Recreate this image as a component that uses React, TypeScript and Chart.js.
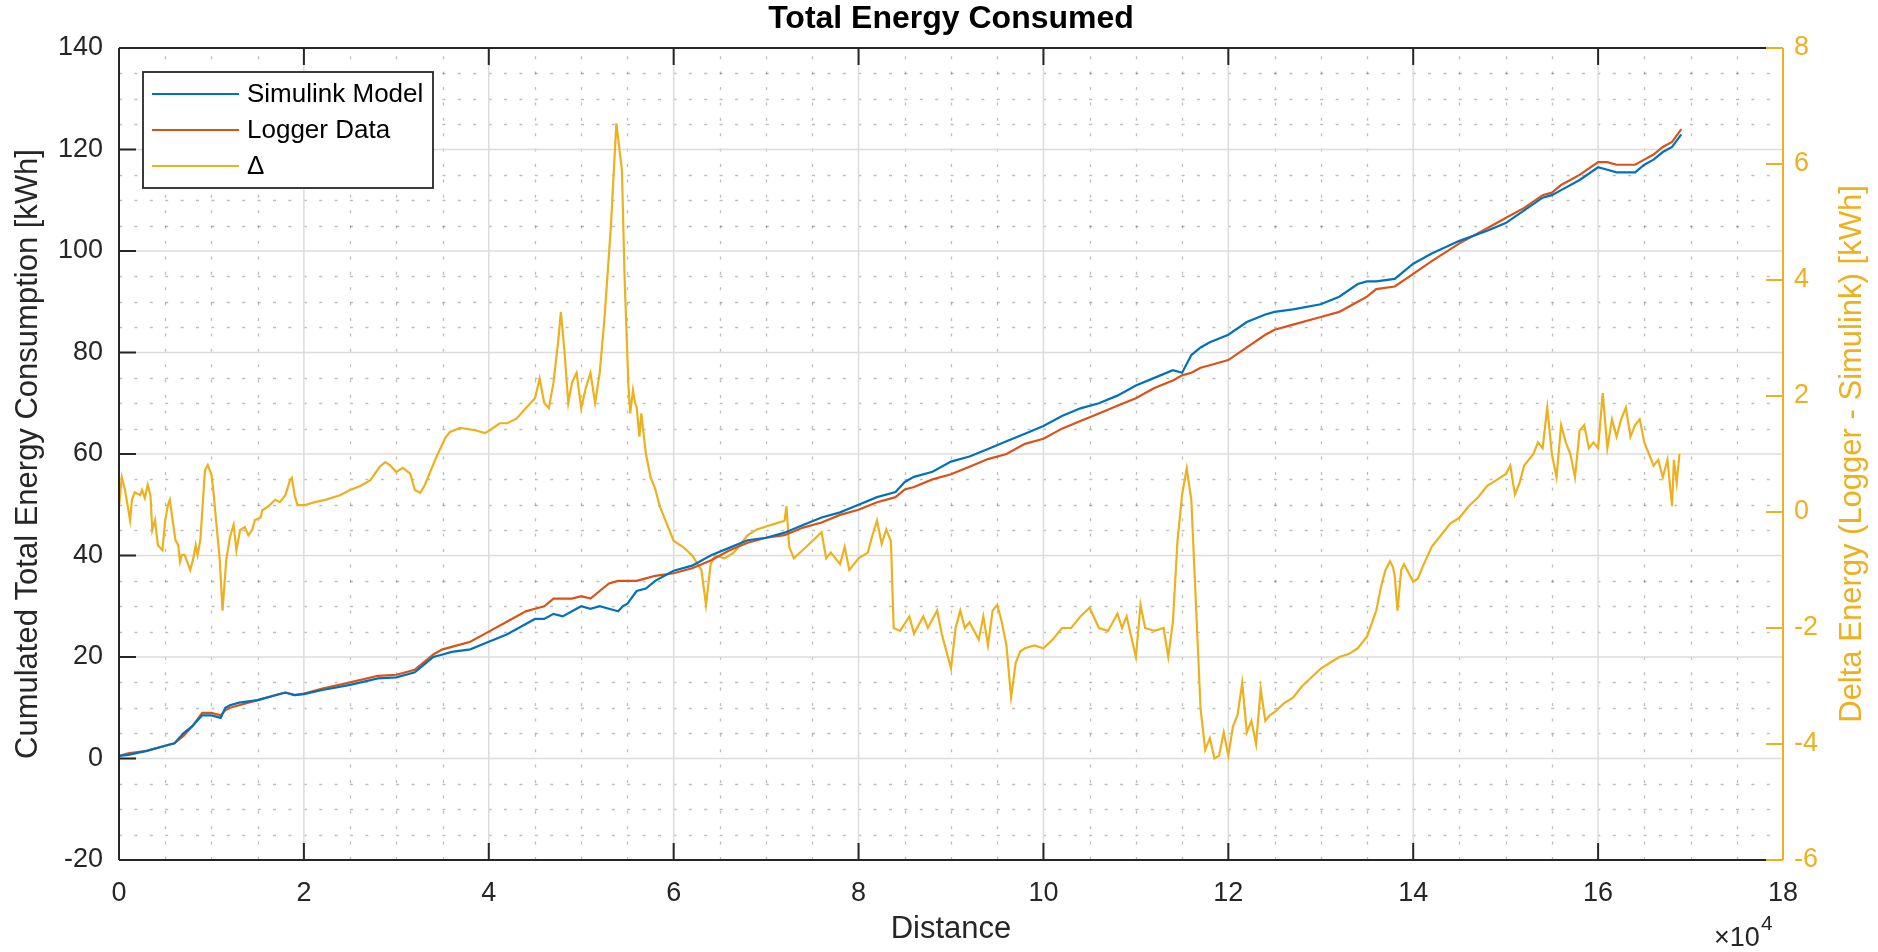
import React, { useEffect, useRef } from "react";
import { Chart, registerables } from "chart.js";

Chart.register(...registerables);

// ---------------- data (distance in units of 1e4 m) ----------------
const cumDistance = [0, 0.1, 0.3, 0.5, 0.6, 0.7, 0.8, 0.9, 1.0, 1.1, 1.15, 1.2, 1.3, 1.5, 1.7, 1.8, 1.9, 2.0, 2.2, 2.5, 2.8, 3.0, 3.2, 3.3, 3.4, 3.5, 3.6, 3.8, 4.0, 4.2, 4.4, 4.5, 4.6, 4.7, 4.8, 4.9, 5.0, 5.1, 5.2, 5.3, 5.4, 5.45, 5.5, 5.6, 5.7, 5.8, 6.0, 6.2, 6.4, 6.6, 6.8, 7.0, 7.2, 7.4, 7.6, 7.8, 8.0, 8.2, 8.4, 8.5, 8.6, 8.8, 9.0, 9.2, 9.4, 9.6, 9.8, 10.0, 10.2, 10.4, 10.6, 10.8, 11.0, 11.2, 11.4, 11.5, 11.6, 11.7, 11.8, 12.0, 12.2, 12.4, 12.5, 12.7, 13.0, 13.2, 13.4, 13.5, 13.6, 13.8, 14.0, 14.2, 14.5, 14.8, 15.0, 15.2, 15.4, 15.5, 15.6, 15.8, 16.0, 16.1, 16.2, 16.4, 16.5, 16.6, 16.7, 16.8, 16.9];

const simulinkModel = [0.5, 0.7, 1.5, 2.5, 3, 5, 6.5, 8.5, 8.5, 8, 10, 10.5, 11, 11.5, 12.5, 13, 12.5, 12.7, 13.5, 14.5, 15.8, 16, 17, 18.5, 20, 20.5, 21, 21.5, 23, 24.5, 26.5, 27.5, 27.5, 28.5, 28, 29, 30, 29.5, 30, 29.5, 29, 30, 30.5, 33, 33.5, 35, 37, 38, 40, 41.5, 43, 43.5, 44.5, 46, 47.5, 48.5, 50, 51.5, 52.5, 54.5, 55.5, 56.5, 58.5, 59.5, 61, 62.5, 64, 65.5, 67.5, 69, 70, 71.5, 73.5, 75, 76.5, 76, 79.5, 81, 82, 83.5, 86, 87.5, 88, 88.5, 89.5, 91, 93.5, 94, 94, 94.5, 97.5, 99.5, 102, 104, 105.5, 108, 110.5, 111, 112, 114, 116.5, 116, 115.5, 115.5, 117, 118, 119.5, 120.5, 123];

const loggerData = [0.5, 1, 1.5, 2.5, 3, 4.5, 6.5, 9, 9, 8.5, 9.5, 10, 10.5, 11.5, 12.5, 13, 12.5, 12.8, 13.8, 15, 16.3, 16.5, 17.5, 19, 20.5, 21.5, 22, 23, 25, 27, 29, 29.5, 30, 31.5, 31.5, 31.5, 32, 31.5, 33, 34.5, 35, 35, 35, 35, 35.5, 36, 36.5, 37.5, 39, 41, 42.5, 43.5, 44, 45.5, 46.5, 48, 49, 50.5, 51.5, 53, 53.5, 55, 56, 57.5, 59, 60, 62, 63, 65, 66.5, 68, 69.5, 71, 73, 74.5, 75.5, 76, 77, 77.5, 78.5, 81, 83.5, 84.5, 85.5, 87, 88, 90, 91, 92.5, 93, 95.5, 98, 101.5, 104.5, 106.5, 108.5, 111, 111.5, 113, 115, 117.5, 117.5, 117, 117, 118, 119, 120.5, 121.5, 124];

const deltaDistance = [0.0, 0.03, 0.065, 0.12, 0.14, 0.17, 0.23, 0.25, 0.28, 0.31, 0.34, 0.36, 0.39, 0.42, 0.47, 0.5, 0.53, 0.55, 0.61, 0.64, 0.66, 0.68, 0.71, 0.75, 0.77, 0.8, 0.83, 0.85, 0.88, 0.93, 0.96, 1.0, 1.02, 1.04, 1.06, 1.09, 1.12, 1.16, 1.2, 1.24, 1.27, 1.31, 1.36, 1.4, 1.44, 1.47, 1.53, 1.55, 1.61, 1.69, 1.74, 1.8, 1.85, 1.87, 1.9, 1.93, 2.01, 2.12, 2.23, 2.39, 2.5, 2.61, 2.72, 2.82, 2.88, 2.93, 3.0, 3.07, 3.15, 3.2, 3.26, 3.31, 3.42, 3.53, 3.58, 3.69, 3.85, 3.96, 4.01, 4.12, 4.2, 4.3, 4.4, 4.5, 4.55, 4.6, 4.65, 4.7, 4.75, 4.78, 4.82, 4.86, 4.9, 4.95, 5.0, 5.05, 5.1, 5.15, 5.2, 5.25, 5.32, 5.38, 5.41, 5.44, 5.47, 5.51, 5.53, 5.56, 5.58, 5.6, 5.63, 5.65, 5.7, 5.75, 5.8, 5.85, 5.9, 5.95, 6.0, 6.1, 6.2, 6.3, 6.35, 6.4, 6.45, 6.55, 6.65, 6.8, 6.9, 7.0, 7.1, 7.2, 7.22, 7.25, 7.3, 7.4, 7.5, 7.6, 7.65, 7.7, 7.8, 7.85, 7.9, 8.0, 8.1, 8.15, 8.2, 8.25, 8.3, 8.35, 8.38, 8.45, 8.55, 8.6, 8.7, 8.75, 8.85, 8.9, 9.0, 9.05, 9.1, 9.15, 9.2, 9.3, 9.35, 9.4, 9.45, 9.5, 9.55, 9.6, 9.65, 9.7, 9.75, 9.8, 9.9, 10.0, 10.1, 10.2, 10.3, 10.4, 10.5, 10.6, 10.7, 10.8, 10.85, 10.9, 11.0, 11.05, 11.1, 11.2, 11.3, 11.35, 11.4, 11.45, 11.5, 11.55, 11.6, 11.65, 11.7, 11.75, 11.8, 11.85, 11.9, 11.95, 12.0, 12.05, 12.1, 12.15, 12.2, 12.25, 12.3, 12.35, 12.4, 12.45, 12.5, 12.6, 12.7, 12.8, 12.9, 13.0, 13.1, 13.2, 13.3, 13.4, 13.5, 13.6, 13.65, 13.7, 13.75, 13.78, 13.8, 13.83, 13.87, 13.9, 14.0, 14.05, 14.1, 14.2, 14.3, 14.4, 14.5, 14.6, 14.7, 14.8, 14.9, 15.0, 15.05, 15.1, 15.15, 15.2, 15.3, 15.35, 15.4, 15.45, 15.5, 15.55, 15.6, 15.65, 15.7, 15.75, 15.8, 15.85, 15.9, 15.95, 16.0, 16.05, 16.1, 16.15, 16.2, 16.25, 16.3, 16.35, 16.4, 16.45, 16.5, 16.55, 16.6, 16.65, 16.7, 16.75, 16.8, 16.82, 16.85, 16.88];

const deltaEnergy = [0.09, 0.6, 0.38, -0.14, 0.21, 0.34, 0.29, 0.38, 0.24, 0.47, 0.29, -0.31, -0.14, -0.57, -0.66, -0.14, 0.12, 0.21, -0.48, -0.57, -0.86, -0.74, -0.74, -0.91, -1.0, -0.83, -0.57, -0.74, -0.48, 0.72, 0.81, 0.64, 0.38, 0.03, -0.31, -0.83, -1.7, -0.83, -0.43, -0.22, -0.66, -0.31, -0.26, -0.4, -0.31, -0.14, -0.1, 0.03, 0.09, 0.21, 0.17, 0.29, 0.55, 0.59, 0.29, 0.12, 0.12, 0.17, 0.21, 0.29, 0.38, 0.45, 0.55, 0.78, 0.86, 0.81, 0.69, 0.76, 0.66, 0.38, 0.33, 0.47, 0.9, 1.28, 1.38, 1.45, 1.41, 1.36, 1.41, 1.53, 1.53, 1.61, 1.79, 1.96, 2.3, 1.88, 1.79, 2.23, 2.93, 3.45, 2.75, 1.88, 2.23, 2.4, 1.79, 2.14, 2.4, 1.88, 2.4, 3.3, 4.9, 6.7, 6.3, 5.9, 4.0, 2.2, 1.7, 2.1, 1.9, 1.8, 1.3, 1.7, 1.0, 0.6, 0.4, 0.1, -0.1, -0.3, -0.5, -0.6, -0.75, -1.0, -1.6, -0.9, -0.75, -0.8, -0.7, -0.4, -0.3, -0.25, -0.2, -0.15, 0.1, -0.6, -0.8, -0.65, -0.5, -0.35, -0.8, -0.7, -0.9, -0.6, -1.0, -0.8, -0.7, -0.4, -0.15, -0.55, -0.3, -0.5, -2.0, -2.05, -1.8, -2.1, -1.8, -2.0, -1.7, -2.1, -2.7, -2.0, -1.7, -2.0, -1.9, -2.2, -1.8, -2.3, -1.7, -1.6, -1.9, -2.3, -3.2, -2.6, -2.4, -2.35, -2.3, -2.35, -2.2, -2.0, -2.0, -1.8, -1.65, -2.0, -2.05, -1.75, -2.0, -1.8, -2.5, -1.6, -2.0, -2.05, -2.0, -2.5, -1.9, -0.5, 0.3, 0.75, 0.2, -1.6, -3.4, -4.1, -3.9, -4.25, -4.2, -3.8, -4.2, -3.7, -3.5, -2.95, -3.8, -3.6, -4.0, -3.05, -3.6, -3.5, -3.45, -3.3, -3.2, -3.0, -2.85, -2.7, -2.6, -2.5, -2.45, -2.35, -2.15, -1.7, -1.3, -1.0, -0.85, -0.95, -1.1, -1.7, -1.0, -0.9, -1.2, -1.15, -0.95, -0.6, -0.4, -0.2, -0.1, 0.1, 0.25, 0.45, 0.55, 0.65, 0.8, 0.3, 0.5, 0.8, 1.0, 1.2, 1.1, 1.8, 1.0, 0.6, 1.5, 1.2, 1.0, 0.6, 1.4, 1.5, 1.1, 1.2, 1.1, 2.05, 1.1, 1.6, 1.3, 1.6, 1.8, 1.3, 1.5, 1.6, 1.2, 1.0, 0.8, 0.9, 0.6, 0.9, 0.1, 0.9, 0.5, 1.0];

const xTickValues = [0, 2, 4, 6, 8, 10, 12, 14, 16, 18];
const leftTickValues = [-20, 0, 20, 40, 60, 80, 100, 120, 140];
const rightTickValues = [-6, -4, -2, 0, 2, 4, 6, 8];

const seriesLabels = ["Simulink Model", "Logger Data", "\u0394"];
const seriesColors = ["#0072BD", "#D95319", "#EDB120"];

const TITLE = "Total Energy Consumed";
const X_LABEL = "Distance";
const Y_LABEL = "Cumulated Total Energy Consumption [kWh]";
const Y2_LABEL = "Delta Energy (Logger - Simulink) [kWh]";

// ---------------- styling ----------------
const FONT = "'Liberation Sans', Arial, Helvetica, sans-serif";
const AXIS_COLOR = "#262626";
const TICK_SIZE = 27;
const LABEL_SIZE = 31;
const W = 1878;
const H = 952;

const decorPlugin = {
  id: "matlabDecor",
  beforeDatasetsDraw(chart: any) {
    const { ctx, chartArea: a, scales } = chart;
    const x = scales.x;
    const y = scales.y;
    ctx.save();
    // minor dotted grid
    ctx.strokeStyle = "rgba(0,0,0,0.26)";
    ctx.lineWidth = 1.3;
    ctx.setLineDash([3, 12.4]);
    for (let v = 0; v <= 18; v += 0.5) {
      if (Math.abs(v % 2) < 1e-9) continue;
      const px = Math.round(x.getPixelForValue(v * 1e4)) + 0.5;
      ctx.beginPath();
      ctx.moveTo(px, a.bottom);
      ctx.lineTo(px, a.top);
      ctx.stroke();
    }
    for (let v = -20; v <= 140; v += 5) {
      if (Math.abs(v % 20) < 1e-9) continue;
      const py = Math.round(y.getPixelForValue(v)) + 0.5;
      ctx.beginPath();
      ctx.moveTo(a.left, py);
      ctx.lineTo(a.right, py);
      ctx.stroke();
    }
    // major solid grid
    ctx.setLineDash([]);
    ctx.strokeStyle = "#dcdcdc";
    ctx.lineWidth = 1.5;
    for (const v of xTickValues) {
      const px = x.getPixelForValue(v * 1e4);
      ctx.beginPath();
      ctx.moveTo(px, a.bottom);
      ctx.lineTo(px, a.top);
      ctx.stroke();
    }
    for (const v of leftTickValues) {
      const py = y.getPixelForValue(v);
      ctx.beginPath();
      ctx.moveTo(a.left, py);
      ctx.lineTo(a.right, py);
      ctx.stroke();
    }
    ctx.restore();
  },
  afterDatasetsDraw(chart: any) {
    const { ctx, chartArea: a, scales } = chart;
    const x = scales.x;
    const y = scales.y;
    const y1 = scales.y1;
    const TL = 17;
    ctx.save();
    ctx.lineCap = "butt";
    // axes box
    ctx.strokeStyle = AXIS_COLOR;
    ctx.lineWidth = 2;
    ctx.beginPath();
    ctx.moveTo(a.left, a.top);
    ctx.lineTo(a.left, a.bottom);
    ctx.moveTo(a.left, a.bottom);
    ctx.lineTo(a.right, a.bottom);
    ctx.moveTo(a.left, a.top);
    ctx.lineTo(a.right, a.top);
    ctx.stroke();
    // x ticks (bottom and top, inward)
    ctx.beginPath();
    for (const v of xTickValues) {
      const px = x.getPixelForValue(v * 1e4);
      ctx.moveTo(px, a.bottom);
      ctx.lineTo(px, a.bottom - TL);
      ctx.moveTo(px, a.top);
      ctx.lineTo(px, a.top + TL);
    }
    // left ticks
    for (const v of leftTickValues) {
      const py = y.getPixelForValue(v);
      ctx.moveTo(a.left, py);
      ctx.lineTo(a.left + TL, py);
    }
    ctx.stroke();
    // right axis (orange)
    ctx.strokeStyle = seriesColors[2];
    ctx.beginPath();
    ctx.moveTo(a.right, a.top);
    ctx.lineTo(a.right, a.bottom);
    for (const v of rightTickValues) {
      const py = y1.getPixelForValue(v);
      ctx.moveTo(a.right, py);
      ctx.lineTo(a.right - TL, py);
    }
    ctx.stroke();

    // legend
    const lx = 143, ly = 72, lw = 290, lh = 116;
    ctx.fillStyle = "#ffffff";
    ctx.fillRect(lx, ly, lw, lh);
    ctx.strokeStyle = AXIS_COLOR;
    ctx.lineWidth = 1.8;
    ctx.strokeRect(lx, ly, lw, lh);
    ctx.font = `26px ${FONT}`;
    ctx.textBaseline = "middle";
    ctx.textAlign = "left";
    seriesLabels.forEach((lab, i) => {
      const ry = ly + 22 + i * 36;
      ctx.strokeStyle = seriesColors[i];
      ctx.lineWidth = 2;
      ctx.beginPath();
      ctx.moveTo(lx + 9, ry);
      ctx.lineTo(lx + 96, ry);
      ctx.stroke();
      ctx.fillStyle = "#000000";
      ctx.fillText(lab, lx + 104, ry + 1);
    });

    // title
    ctx.fillStyle = "#000000";
    ctx.font = `bold 32px ${FONT}`;
    ctx.textAlign = "center";
    ctx.textBaseline = "alphabetic";
    ctx.fillText(TITLE, (a.left + a.right) / 2, 28);

    // right axis label (reads bottom-to-top)
    ctx.save();
    ctx.translate(1852, (a.top + a.bottom) / 2);
    ctx.rotate(-Math.PI / 2);
    ctx.fillStyle = seriesColors[2];
    ctx.font = `${LABEL_SIZE}px ${FONT}`;
    ctx.textAlign = "center";
    ctx.textBaseline = "middle";
    ctx.fillText(Y2_LABEL, 0, 0);
    ctx.restore();

    // x10^4 exponent
    ctx.fillStyle = AXIS_COLOR;
    ctx.textAlign = "left";
    ctx.textBaseline = "alphabetic";
    ctx.font = `${TICK_SIZE}px ${FONT}`;
    ctx.fillText("\u00d710", 1714, 946);
    ctx.font = `21px ${FONT}`;
    ctx.fillText("4", 1761, 930);
    ctx.restore();
  },
};

export default function App() {
  const ref = useRef<HTMLCanvasElement | null>(null);
  useEffect(() => {
    const canvas = ref.current;
    if (!canvas) return;
    const toPts = (xs: number[], ys: number[]) => xs.map((d, i) => ({ x: d * 1e4, y: ys[i] }));
    const tickFont = { family: FONT, size: TICK_SIZE };
    const labelFont = { family: FONT, size: LABEL_SIZE };
    const chart = new Chart(canvas, {
      type: "line",
      data: {
        datasets: [
          { label: seriesLabels[0], data: toPts(cumDistance, simulinkModel), borderColor: seriesColors[0], backgroundColor: seriesColors[0], borderWidth: 2.2, pointRadius: 0, tension: 0, yAxisID: "y" },
          { label: seriesLabels[1], data: toPts(cumDistance, loggerData), borderColor: seriesColors[1], backgroundColor: seriesColors[1], borderWidth: 2.2, pointRadius: 0, tension: 0, yAxisID: "y" },
          { label: seriesLabels[2], data: toPts(deltaDistance, deltaEnergy), borderColor: seriesColors[2], backgroundColor: seriesColors[2], borderWidth: 2.2, pointRadius: 0, tension: 0, yAxisID: "y1" },
        ],
      },
      options: {
        responsive: false,
        maintainAspectRatio: false,
        animation: false,
        devicePixelRatio: 1,
        layout: { padding: { top: 48, left: 0, right: 0, bottom: 0 } },
        plugins: { legend: { display: false }, title: { display: false }, tooltip: { enabled: false } },
        scales: {
          x: {
            type: "linear",
            position: "bottom",
            min: 0,
            max: 180000,
            afterBuildTicks: (s: any) => { s.ticks = xTickValues.map((v) => ({ value: v * 1e4 })); },
            ticks: { callback: (v: any) => String(Number(v) / 1e4), font: tickFont, color: AXIS_COLOR, padding: 17, maxRotation: 0, autoSkip: false },
            grid: { display: false, drawTicks: false },
            border: { display: false },
            title: { display: true, text: X_LABEL, font: labelFont, color: AXIS_COLOR, padding: { top: 0, bottom: 4 } },
            afterFit: (s: any) => { s.height = 92; },
          },
          y: {
            type: "linear",
            position: "left",
            min: -20,
            max: 140,
            afterBuildTicks: (s: any) => { s.ticks = leftTickValues.map((v) => ({ value: v })); },
            ticks: { font: tickFont, color: AXIS_COLOR, padding: 16 },
            grid: { display: false, drawTicks: false },
            border: { display: false },
            title: { display: true, text: Y_LABEL, font: labelFont, color: AXIS_COLOR, padding: { top: 10, bottom: 0 } },
            afterFit: (s: any) => { s.width = 119; },
          },
          y1: {
            type: "linear",
            position: "right",
            min: -6,
            max: 8,
            afterBuildTicks: (s: any) => { s.ticks = rightTickValues.map((v) => ({ value: v })); },
            ticks: { font: tickFont, color: seriesColors[2], padding: 11 },
            grid: { display: false, drawTicks: false },
            border: { display: false },
            afterFit: (s: any) => { s.width = 95; },
          },
        },
      },
      plugins: [decorPlugin],
    } as any);
    return () => chart.destroy();
  }, []);

  return (
    <div style={{ position: "fixed", left: 0, top: 0, width: W, height: H, background: "#ffffff" }}>
      <canvas ref={ref} width={W} height={H} style={{ width: W, height: H, display: "block" }} />
    </div>
  );
}
